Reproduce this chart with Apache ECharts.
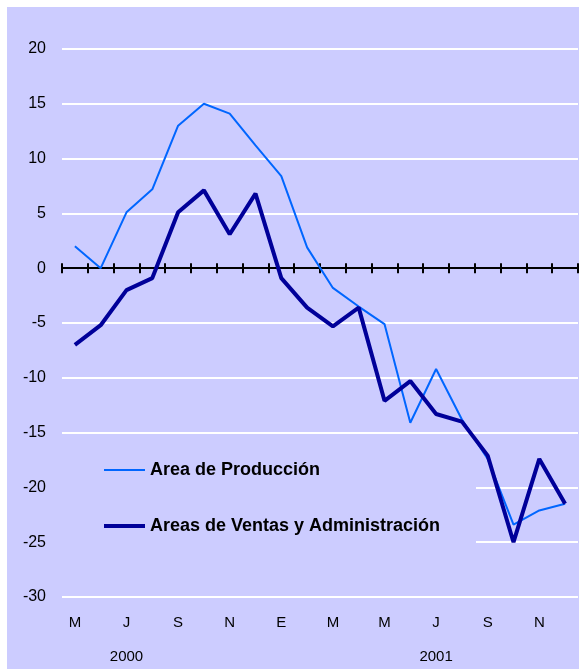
<!DOCTYPE html>
<html>
<head>
<meta charset="utf-8">
<script src="https://cdn.jsdelivr.net/npm/echarts@6/dist/echarts.min.js"></script>
<style>
    html, body { margin: 0; padding: 0; background: #fff; }
    #bg { position: absolute; left: 7px; top: 7px; width: 572px; height: 662px; background: #ccccff; }
    #chart { position: absolute; left: 0; top: 0; width: 579px; height: 669px; }
</style>
</head>
<body>
<div id="bg"></div>
<div id="chart"></div>
<script>
    // meses mayo 2000 - diciembre 2001
    var months = ['M','J','J','A','S','O','N','D','E','F','M','A','M','J','J','A','S','O','N','D'];
    var years = { 2: '2000', 14: '2001' };
    var produccion = [2.0, 0, 5.1, 7.2, 13.0, 15.0, 14.1, 11.2, 8.4, 1.9, -1.8, -3.5, -5.1, -14.1, -9.2, -13.8, -17.4, -23.4, -22.1, -21.5];
    var ventas = [-7.0, -5.2, -2.0, -0.9, 5.1, 7.1, 3.1, 6.8, -0.9, -3.6, -5.3, -3.6, -12.1, -10.3, -13.3, -14.0, -17.1, -25.0, -17.4, -21.5];
    var yTicks = { min: -30, max: 20, step: 5 };

    var FONT = 'Liberation Sans, Arial, sans-serif';
    var chart = echarts.init(document.getElementById('chart'));

    var option = {
        backgroundColor: 'transparent',
        animation: false,
        grid: { left: 62, right: 1, top: 49, bottom: 72, outerBoundsMode: 'none', containLabel: false },
        legend: {
            orient: 'vertical',
            left: 102,
            top: 461,
            padding: 0,
            itemWidth: 41,
            itemHeight: 14,
            itemGap: 38,
            itemStyle: { opacity: 0 },
            textStyle: { fontFamily: FONT, fontSize: 18, fontWeight: 'bold', color: '#000' },
            data: [
                { name: 'Area de Producción', lineStyle: { width: 2 } },
                { name: 'Areas de Ventas y Administración', lineStyle: { width: 4 } }
            ]
        },
        graphic: [{
            type: 'rect',
            z: 1,
            shape: { x: 62, y: 440, width: 414, height: 115 },
            style: { fill: '#ccccff' }
        }],
        xAxis: [{
            // eje en cero, marcas hacia abajo
            type: 'category',
            data: months,
            position: 'bottom',
            axisLine: { onZero: true, onZeroAxisIndex: 0, lineStyle: { color: '#000', width: 2 } },
            axisTick: { show: true, length: 5, interval: 0, lineStyle: { color: '#000', width: 2 } },
            axisLabel: { show: false },
            splitLine: { show: false }
        }, {
            // marcas hacia arriba
            type: 'category',
            data: months,
            position: 'bottom',
            axisLine: { show: true, onZero: true, onZeroAxisIndex: 1, lineStyle: { color: '#000', width: 2 } },
            axisTick: { show: true, inside: true, length: 5, interval: 0, lineStyle: { color: '#000', width: 2 } },
            axisLabel: { show: false },
            splitLine: { show: false }
        }, {
            // etiquetas abajo
            type: 'category',
            data: months,
            position: 'bottom',
            axisLine: { show: false, onZero: false },
            axisTick: { show: false },
            axisLabel: {
                interval: 1,
                margin: 9,
                fontFamily: FONT,
                fontSize: 15,
                color: '#000',
                lineHeight: 34,
                formatter: function (v, i) {
                    return years[i] ? v + '\n' + years[i] : v;
                }
            },
            splitLine: { show: false }
        }],
        yAxis: [{
            type: 'value',
            min: yTicks.min,
            max: yTicks.max,
            interval: yTicks.step,
            axisLine: { show: false },
            axisTick: { show: false },
            axisLabel: { margin: 16, fontFamily: FONT, fontSize: 16, color: '#000' },
            splitLine: { lineStyle: { color: '#fff', width: 2 } }
        }, {
            type: 'value',
            min: yTicks.min,
            max: yTicks.max,
            interval: yTicks.step,
            position: 'left',
            axisLine: { show: false },
            axisTick: { show: false },
            axisLabel: { show: false },
            splitLine: { show: false }
        }],
        series: [{
            name: 'Area de Producción',
            type: 'line',
            xAxisIndex: 0,
            yAxisIndex: 0,
            data: produccion,
            symbol: 'none',
            z: 3,
            lineStyle: { color: '#0066ff', width: 2 },
            itemStyle: { color: '#0066ff' }
        }, {
            name: 'Areas de Ventas y Administración',
            type: 'line',
            xAxisIndex: 0,
            yAxisIndex: 0,
            data: ventas,
            symbol: 'none',
            z: 4,
            lineStyle: { color: '#000099', width: 4 },
            itemStyle: { color: '#000099' }
        }]
    };

    chart.setOption(option);
</script>
</body>
</html>
